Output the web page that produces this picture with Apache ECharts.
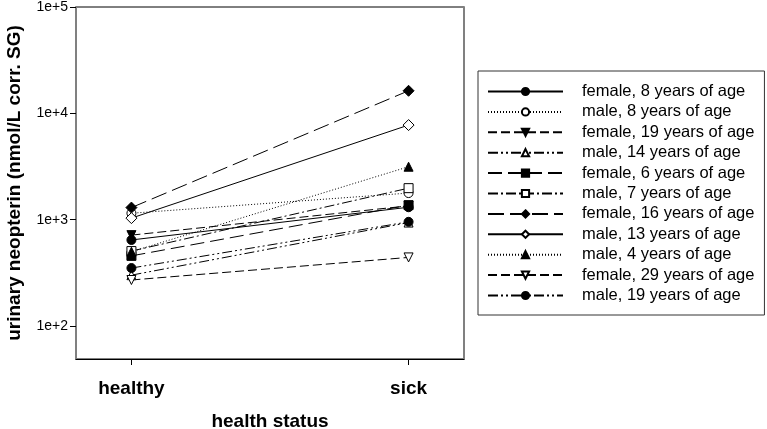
<!DOCTYPE html>
<html>
<head>
<meta charset="utf-8">
<script src="https://cdn.jsdelivr.net/npm/echarts@6/dist/echarts.min.js"></script>
<style>html,body{margin:0;padding:0;background:#fff;}#c{width:767px;height:429px;}</style>
</head>
<body>
<div id="c"></div>
<script>
// Data
const categories = ['healthy', 'sick'];
const seriesNames = [
  'female, 8 years of age',
  'male, 8 years of age',
  'female, 19 years of age',
  'male, 14 years of age',
  'female, 6 years of age',
  'male, 7 years of age',
  'female, 16 years of age',
  'male, 13 years of age',
  'male, 4 years of age',
  'female, 29 years of age',
  'male, 19 years of age'
];
const healthyValues = [645, 1150, 716, 301, 457, 507, 1300, 1035, 500, 271, 351];
const sickValues    = [1310, 1780, 1350, 940, 1370, 1980, 16300, 7760, 3150, 442, 955];
const yTickValues = [100, 1000, 10000, 100000];
const yTickLabels = ['1e+2', '1e+3', '1e+4', '1e+5'];

// Styles (not data)
const styles = [
  {dash: 'solid',               symbol: 'circle',   rot: 0,   open: false},
  {dash: [1, 2],                symbol: 'circle',   rot: 0,   open: true},
  {dash: [9, 4],                symbol: 'triangle', rot: 180, open: false},
  {dash: [10, 3, 2, 3, 2, 3],   symbol: 'triangle', rot: 0,   open: true},
  {dash: [14, 6],               symbol: 'rect',     rot: 0,   open: false},
  {dash: [10, 3, 2, 3],         symbol: 'rect',     rot: 0,   open: true},
  {dash: [16, 6],               symbol: 'diamond',  rot: 0,   open: false},
  {dash: 'solid',               symbol: 'diamond',  rot: 0,   open: true},
  {dash: [1, 2],                symbol: 'triangle', rot: 0,   open: false},
  {dash: [9, 4],                symbol: 'triangle', rot: 180, open: true},
  {dash: [10, 3, 2, 3, 2, 3],   symbol: 'circle',   rot: 0,   open: false}
];

const font = 'Arial, "Liberation Sans", sans-serif';

const series = seriesNames.map((name, i) => {
  const s = styles[i];
  return {
    name: name,
    type: 'line',
    data: [[0, healthyValues[i]], [1, sickValues[i]]],
    symbol: s.symbol,
    symbolRotate: s.rot,
    symbolSize: s.symbol === 'diamond' ? 11 : 9,
    showAllSymbol: true,
    lineStyle: {color: '#000', width: 1, type: s.dash},
    itemStyle: {color: s.open ? '#fff' : '#000', borderColor: '#000', borderWidth: 1, opacity: 1},
    emphasis: {disabled: true},
    z: 2
  };
});

const chart = echarts.init(document.getElementById('c'), null, {renderer: 'canvas'});
chart.setOption({
  animation: false,
  backgroundColor: '#fff',
  grid: {left: 76, top: 7, width: 388, height: 352, show: true, borderColor: '#000', borderWidth: 1,
         backgroundColor: 'transparent', containLabel: false, outerBoundsMode: 'none'},
  xAxis: {
    type: 'value', min: -0.2, max: 1.2,
    splitLine: {show: false},
    axisLine: {show: true, onZero: false, lineStyle: {color: '#000', width: 1}},
    axisTick: {show: true, inside: false, length: 6, customValues: [0, 1], lineStyle: {color: '#000'}},
    axisLabel: {
      customValues: [0, 1], margin: 20,
      formatter: v => categories[Math.round(v)],
      color: '#000', fontFamily: font, fontSize: 19, fontWeight: 'bold'
    },
    name: 'health status', nameLocation: 'middle', nameGap: 53,
    nameTextStyle: {color: '#000', fontFamily: font, fontSize: 19, fontWeight: 'bold'}
  },
  yAxis: [{
    type: 'log', logBase: 10, min: 49, max: 100000,
    splitLine: {show: false},
    axisLine: {show: true, onZero: false, lineStyle: {color: '#808080', width: 2}},
    axisTick: {show: true, length: 6, customValues: yTickValues, lineStyle: {color: '#000'}},
    axisLabel: {
      customValues: yTickValues, margin: 8,
      formatter: v => yTickLabels[yTickValues.indexOf(Math.round(v))] || ('1e+' + Math.round(Math.log10(v))),
      color: '#000', fontFamily: font, fontSize: 14
    },
    name: 'urinary neopterin (nmol/L corr. SG)', nameLocation: 'middle', nameGap: 52,
    nameTextStyle: {color: '#000', fontFamily: font, fontSize: 19, fontWeight: 'bold'}
  }, {
    type: 'log', logBase: 10, min: 49, max: 100000, position: 'right',
    splitLine: {show: false},
    axisLine: {show: true, onZero: false, lineStyle: {color: '#808080', width: 2}},
    axisTick: {show: false}, axisLabel: {show: false}
  }],
  legend: {
    orient: 'vertical', left: 478, top: 71,
    padding: [12, 10, 11, 9],
    itemWidth: 75, itemHeight: 9, itemGap: 3.4,
    borderColor: '#333', borderWidth: 1, backgroundColor: '#fff',
    textStyle: {color: '#000', fontFamily: font, fontSize: 16.5, padding: [0, 0, 0, 14]},
    data: seriesNames
  },
  series: series
});
</script>
</body>
</html>
